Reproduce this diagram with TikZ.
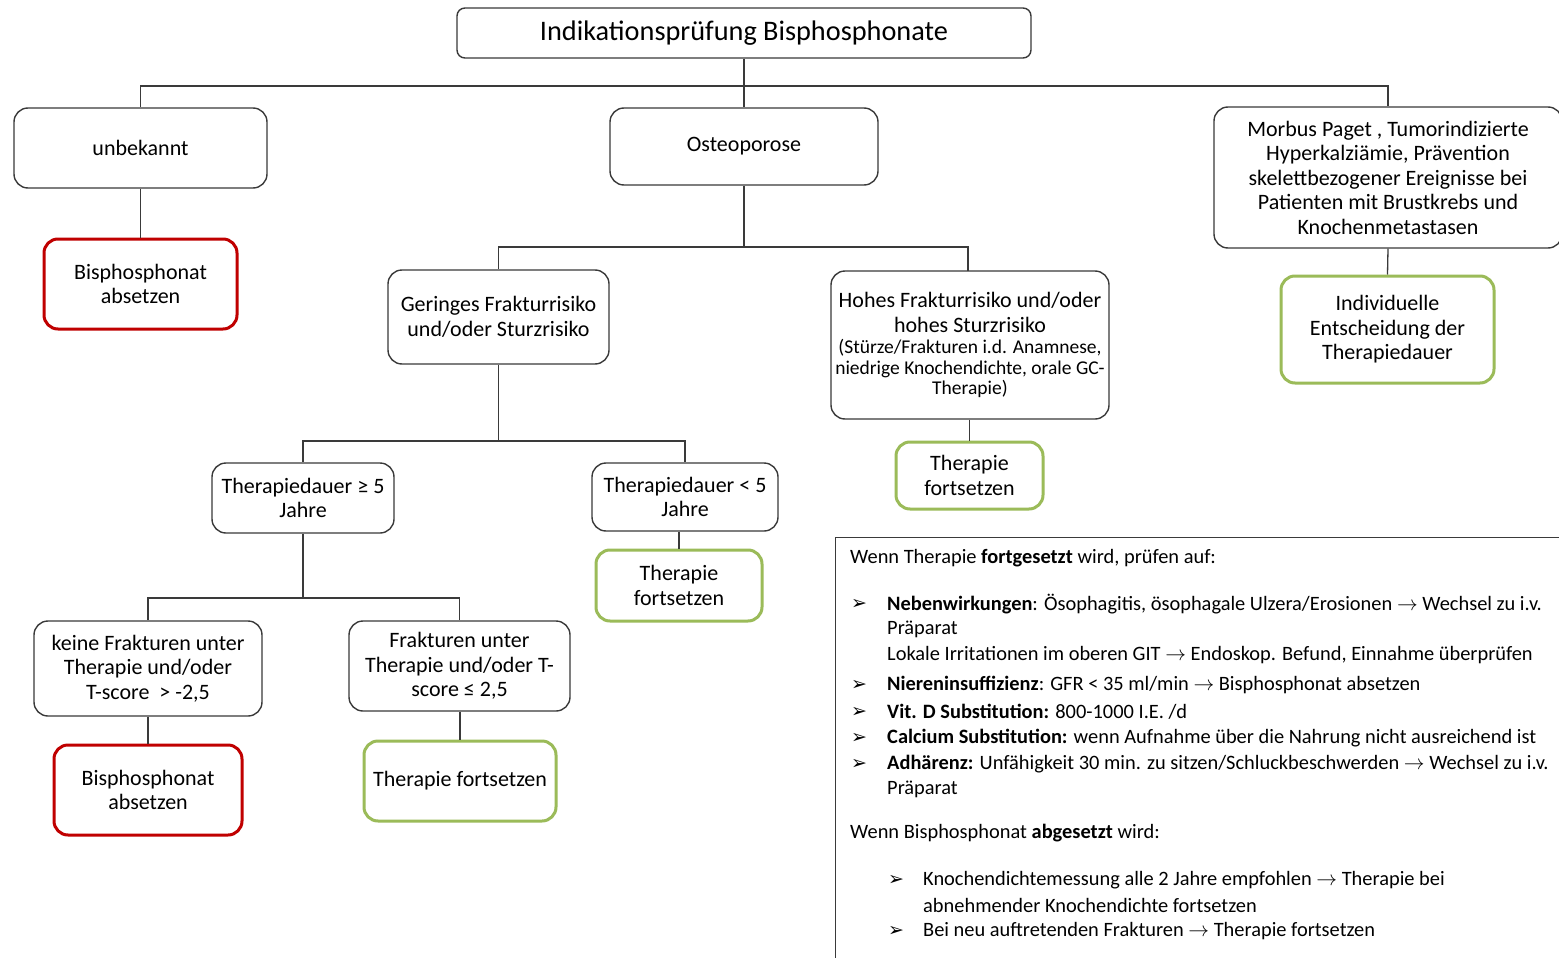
\documentclass[tikz,border=0pt]{standalone}
\usepackage{fontspec}
\setmainfont{Carlito}
\usetikzlibrary{positioning}
\definecolor{bordergray}{HTML}{3A3A3A}
\definecolor{okgreen}{HTML}{9BBB59}
\definecolor{stopred}{HTML}{C00000}
\begin{document}
\begin{tikzpicture}[x=1pt,y=-1pt,
  box/.style={draw=bordergray, line width=1.4pt, rounded corners=14pt, align=center, inner sep=2pt,
    font=\fontsize{22}{24.5}\selectfont, text=black},
  greenbox/.style={box, draw=okgreen, line width=3pt},
  redbox/.style={box, draw=stopred, line width=3pt},
  conn/.style={draw=bordergray, line width=1.3pt},
  txt/.style={anchor=west, inner sep=0pt, font=\fontsize{20.4}{22}\selectfont},
  bul/.style={anchor=west, inner sep=0pt, font=\fontsize{19}{20}\fontspec{DejaVu Sans}}
]
\useasboundingbox (0,0) rectangle (1559,958);
\fill[white] (0,0) rectangle (1559,958);

% nodes
\node[box, rounded corners=8pt, minimum width=574pt, minimum height=50pt, font=\fontsize{28.3}{32}\selectfont] (title) at (744,33) {Indikationsprüfung Bisphosphonate};
\node[box, minimum width=253pt, minimum height=80pt] (unb) at (140.5,148) {unbekannt};
\node[box, minimum width=268pt, minimum height=77pt] (ost) at (744,146.5) {Osteoporose};
\node[box, minimum width=348pt, minimum height=141pt] (mp) at (1388,177.5) {Morbus Paget , Tumorindizierte\\Hyperkalziämie, Prävention\\skelettbezogener Ereignisse bei\\Patienten mit Brustkrebs und\\Knochenmetastasen};
\node[redbox, minimum width=193pt, minimum height=90pt] (abs1) at (140.5,284) {Bisphosphonat\\absetzen};
\node[box, minimum width=221pt, minimum height=94pt] (ger) at (498.5,317) {Geringes Frakturrisiko\\und/oder Sturzrisiko};
\node[box, minimum width=278pt, minimum height=148pt] (hoh) at (970,345) {Hohes Frakturrisiko und/oder\\hohes Sturzrisiko\\[-3pt]{\fontsize{19.5}{20}\selectfont (Stürze/Frakturen i.d. Anamnese,}\\[-4pt]{\fontsize{19.5}{20}\selectfont niedrige Knochendichte, orale GC-}\\[-4pt]{\fontsize{19.5}{20}\selectfont Therapie)}};
\node[greenbox, minimum width=147pt, minimum height=67pt] (tf1) at (969.5,475.5) {Therapie\\fortsetzen};
\node[greenbox, minimum width=213pt, minimum height=107pt] (ind) at (1387.5,329.5) {Individuelle\\Entscheidung der\\Therapiedauer};
\node[box, minimum width=182pt, minimum height=70pt] (td5) at (303,498) {Therapiedauer ≥ 5\\Jahre};
\node[box, minimum width=186pt, minimum height=68pt] (tdk) at (685,497) {Therapiedauer < 5\\Jahre};
\node[greenbox, minimum width=166pt, minimum height=71pt] (tf2) at (679,585.5) {Therapie\\fortsetzen};
\node[box, minimum width=228pt, minimum height=95pt] (kf) at (148,668.5) {keine Frakturen unter\\Therapie und/oder\\T-score\ \ > -2,5};
\node[box, minimum width=221pt, minimum height=90pt] (fu) at (459.5,666) {Frakturen unter\\Therapie und/oder T-\\score ≤ 2,5};
\node[redbox, minimum width=188pt, minimum height=90pt] (abs2) at (148,790) {Bisphosphonat\\absetzen};
\node[greenbox, minimum width=192pt, minimum height=80pt] (tf3) at (460,781) {Therapie fortsetzen};

% connectors
\coordinate (j1) at (744,86);
\draw[conn] (title.south) -- (j1);
\draw[conn] (j1) -| (unb.north);
\draw[conn] (j1) -| (mp.north);
\draw[conn] (j1) -- (ost.north);
\draw[conn] (unb.south) -- (abs1.north);
\draw[conn] (mp.south) -- (ind.north);
\coordinate (j2) at (744,247);
\draw[conn] (ost.south) -- (j2);
\draw[conn] (j2) -| (ger.north);
\draw[conn] (j2) -| (968,271);
\draw[conn] (hoh.south -| tf1.north) -- (tf1.north);
\coordinate (j3) at (498.5,441);
\draw[conn] (ger.south) -- (j3);
\draw[conn] (j3) -| (td5.north);
\draw[conn] (j3) -| (tdk.north);
\draw[conn] (tdk.south -| tf2.north) -- (tf2.north);
\coordinate (j4) at (303,598);
\draw[conn] (td5.south) -- (j4);
\draw[conn] (j4) -| (kf.north);
\draw[conn] (j4) -| (fu.north);
\draw[conn] (kf.south) -- (abs2.north);
\draw[conn] (fu.south -| tf3.north) -- (tf3.north);

% info box
\node[draw=bordergray, line width=1.4pt, minimum width=730pt, minimum height=430pt, anchor=north west, inner sep=0pt] (info) at (835,537) {};
\node[txt] (l0) at (850,558) {Wenn Therapie \textbf{fortgesetzt} wird, prüfen auf:};
\node[bul] (b1) at (851,604) {➢};
\node[txt] (l1) at (887,604) {\textbf{Nebenwirkungen}: Ösophagitis, ösophagale Ulzera/Erosionen $\rightarrow$ Wechsel zu i.v.};
\node[txt] (l1b) at (887,629) {Präparat};
\node[txt] (l1c) at (887,655) {Lokale Irritationen im oberen GIT $\rightarrow$ Endoskop. Befund, Einnahme überprüfen};
\node[bul] (b2) at (851,685) {➢};
\node[txt] (l2) at (887,685) {\textbf{Niereninsuffizienz}: GFR < 35 ml/min $\rightarrow$ Bisphosphonat absetzen};
\node[bul] (b3) at (851,712) {➢};
\node[txt] (l3) at (887,712) {\textbf{Vit. D Substitution:} 800-1000 I.E. /d};
\node[bul] (b4) at (851,738) {➢};
\node[txt] (l4) at (887,738) {\textbf{Calcium Substitution:} wenn Aufnahme über die Nahrung nicht ausreichend ist};
\node[bul] (b5) at (851,764) {➢};
\node[txt] (l5) at (887,764) {\textbf{Adhärenz:} Unfähigkeit 30 min. zu sitzen/Schluckbeschwerden $\rightarrow$ Wechsel zu i.v.};
\node[txt] (l5b) at (887,789) {Präparat};
\node[txt] (l6) at (850,833) {Wenn Bisphosphonat \textbf{abgesetzt} wird:};
\node[bul] (b6) at (888,880) {➢};
\node[txt] (l7) at (923,880) {Knochendichtemessung alle 2 Jahre empfohlen $\rightarrow$ Therapie bei};
\node[txt] (l7b) at (923,905) {abnehmender Knochendichte fortsetzen};
\node[bul] (b7) at (888,931) {➢};
\node[txt] (l8) at (923,931) {Bei neu auftretenden Frakturen $\rightarrow$ Therapie fortsetzen};
\end{tikzpicture}
\end{document}
